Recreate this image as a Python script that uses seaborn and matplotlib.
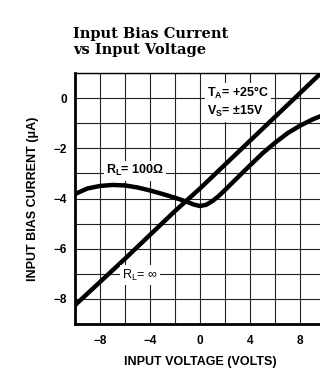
import numpy as np
import pandas as pd
import matplotlib
matplotlib.use("Agg")
import matplotlib.pyplot as plt
from matplotlib.ticker import MultipleLocator
import seaborn as sns

# R_L = infinity curve (straight)
x_inf = [-10, -6, -2, 0, 2, 6, 10]
y_inf = [-8.25, -6.4, -4.5, -3.6, -2.65, -0.75, 1.15]

# R_L = 100 ohm curve
x_100 = [-10, -9, -8, -7, -6, -5, -4, -3, -2, -1, -0.5, 0, 0.5, 1, 1.5, 2, 3, 4, 5, 6, 7, 8, 9, 10]
y_100 = [-3.82, -3.6, -3.5, -3.46, -3.48, -3.56, -3.68, -3.82, -3.97, -4.14, -4.24, -4.3,
         -4.25, -4.1, -3.9, -3.66, -3.17, -2.68, -2.2, -1.78, -1.4, -1.1, -0.85, -0.65]

x_ticks = [-8, -4, 0, 4, 8]
y_ticks = [0, -2, -4, -6, -8]

sns.set_style("white")
plt.rcParams['font.family'] = ['Liberation Sans', 'DejaVu Sans']
plt.rcParams['mathtext.fontset'] = 'custom'
plt.rcParams['mathtext.rm'] = 'Liberation Sans'
plt.rcParams['mathtext.bf'] = 'Liberation Sans:bold'
for k in ['text.color', 'axes.labelcolor', 'xtick.color', 'ytick.color']:
    plt.rcParams[k] = 'black'

fig = plt.figure(figsize=(3.2, 3.71), dpi=100)
ax = fig.add_axes([75 / 320, 47 / 371, 250 / 320, 251 / 371])

df_inf = pd.DataFrame({'x': x_inf, 'y': y_inf})
df_100 = pd.DataFrame({'x': x_100, 'y': y_100})
sns.lineplot(data=df_inf, x='x', y='y', ax=ax, color='black', lw=3.2, zorder=3)
sns.lineplot(data=df_100, x='x', y='y', ax=ax, color='black', lw=3.2, zorder=3)

ax.set_xlim(-10, 10)
ax.set_ylim(-9, 1)
ax.set_xticks(x_ticks)
ax.set_yticks(y_ticks)
ax.xaxis.set_minor_locator(MultipleLocator(2))
ax.yaxis.set_minor_locator(MultipleLocator(1))
ax.grid(True, which='both', color='#222222', lw=0.8)
ax.tick_params(which='both', length=0, labelsize=8.5)
ax.tick_params(axis='x', pad=8)
ax.tick_params(axis='y', pad=6)
for lab in ax.get_xticklabels() + ax.get_yticklabels():
    lab.set_fontweight('bold')

for s in ['left', 'bottom']:
    ax.spines[s].set_linewidth(2)
ax.spines['top'].set_linewidth(1)
ax.spines['right'].set_visible(False)
for s in ax.spines.values():
    s.set_color('black')

ax.set_xlabel('INPUT VOLTAGE (VOLTS)', fontsize=9, fontweight='bold')
ax.set_ylabel('INPUT BIAS CURRENT (\u03bcA)', fontsize=9, fontweight='bold')
ax.xaxis.set_label_coords(125 / 250, -32 / 251)
ax.yaxis.set_label_coords(-36 / 250, 0.5)

box = dict(facecolor='white', edgecolor='none', pad=1.5)
ax.text(0.55, 0.2, 'T$_\\mathbf{A}$= +25\u00b0C', fontsize=9, fontweight='bold',
        va='center', ha='left', bbox=box, zorder=4)
ax.text(0.55, -0.55, 'V$_\\mathbf{S}$= \u00b115V', fontsize=9, fontweight='bold',
        va='center', ha='left', bbox=box, zorder=4)
ax.text(-7.5, -2.9, 'R$_\\mathbf{L}$= 100\u03a9', fontsize=9, fontweight='bold',
        va='center', ha='left', bbox=box, zorder=4)
ax.text(-6.2, -7.05, 'R$_\\mathrm{L}$= \u221e', fontsize=9,
        va='center', ha='left', bbox=box, zorder=4)

fig.text(73 / 320, 1 - 27 / 371, 'Input Bias Current\nvs Input Voltage',
         fontsize=10.5, fontweight='bold', family='DejaVu Serif',
         va='top', ha='left', linespacing=1.15)

fig.savefig('out.png', dpi=100)
